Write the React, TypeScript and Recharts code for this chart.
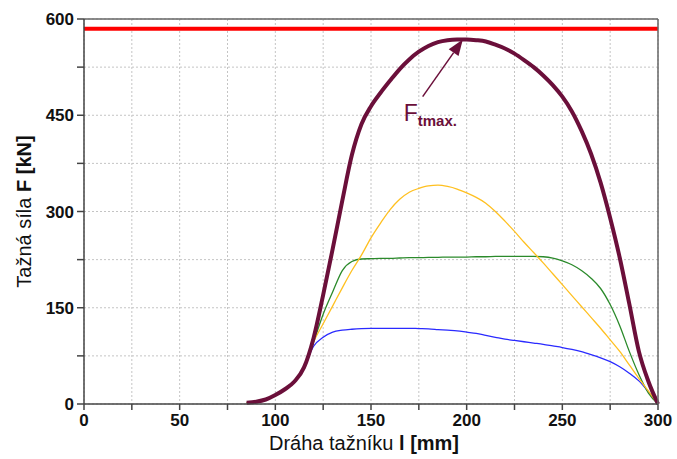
import React from 'react';
import {
  LineChart,
  Line,
  XAxis,
  YAxis,
  CartesianGrid,
  ReferenceLine,
} from 'recharts';

// dráha tažníku [mm]
const xs = [
  85, 90, 95, 100, 105, 110, 115, 120, 125, 130, 135, 140, 145, 150, 155, 160, 165, 170, 175, 180, 185, 190,
  195, 200, 205, 210, 215, 220, 225, 230, 235, 240, 245, 250, 255, 260, 265, 270, 275, 280, 285, 290, 295, 300,
];

// shared start of all curves (85..115)
const start = [2, 3.5, 7, 14, 23, 35, 57];

const purple = start.concat([
  103, 170, 242, 317, 388, 436, 464, 485, 504, 522, 537, 549, 558, 564, 567, 568, 568, 567, 565, 560, 554, 546,
  536, 525, 512, 497, 479, 456, 426, 390, 345, 290, 228, 156, 82, 35, 0,
]);
const yellow = start.concat([
  97, 125, 153, 181, 208, 232, 259, 282, 303, 319, 330, 336, 340, 341, 339, 335, 329, 322, 313, 300, 285, 269,
  252, 236, 220, 203, 186, 169, 152, 135, 118, 100, 82, 61, 40, 20, 0,
]);
const green = start.concat([
  97, 140, 175, 208, 222, 226, 226.5, 227, 227, 227.5, 228, 228, 228.5, 228.5, 229, 229, 229, 229.5, 229.5, 230,
  230, 230, 230, 230, 229.5, 227.5, 223, 217, 208, 196, 180, 155, 122, 82, 46, 17, 0,
]);
const blue = start.concat([
  90, 104, 112, 115, 116.5, 117.5, 118, 118, 118, 118, 118, 117.5, 117, 116, 115, 114, 112, 110, 107, 104, 101,
  99, 97, 95, 93, 90.5, 88, 85, 81.5, 77, 72, 66, 58, 48, 36, 19, 0,
]);

const xTicks = [0, 25, 50, 75, 100, 125, 150, 175, 200, 225, 250, 275, 300];
const yTicks = [0, 75, 150, 225, 300, 375, 450, 525, 600];
const fMaxLimit = 585;
const peak = { x: 198, y: 568 };
const arrowTail = { x: 177, y: 479 };

const data = xs.map((x, i) => ({
  x,
  purple: purple[i],
  yellow: yellow[i],
  green: green[i],
  blue: blue[i],
}));

const font = '"Liberation Sans", Arial, sans-serif';
const tickStyle = { fontFamily: font, fontSize: 17, fontWeight: 'bold', fill: '#111' };

const ArrowShape = (props: any) => {
  const { x1, y1, x2, y2 } = props;
  const ang = Math.atan2(y2 - y1, x2 - x1);
  const len = 16;
  const w = 6;
  const bx = x2 - len * Math.cos(ang);
  const by = y2 - len * Math.sin(ang);
  const px = -Math.sin(ang) * w;
  const py = Math.cos(ang) * w;
  return (
    <g>
      <line x1={x1} y1={y1} x2={bx} y2={by} stroke="#6b0f3a" strokeWidth={1.5} />
      <polygon points={`${x2},${y2} ${bx + px},${by + py} ${bx - px},${by - py}`} fill="#6b0f3a" />
      <text x={x1 - 19} y={y1 + 24} fill="#6b0f3a" fontFamily={font}>
        <tspan fontSize={23}>F</tspan>
        <tspan fontSize={15} fontWeight="bold" dy={5}>tmax.</tspan>
      </text>
    </g>
  );
};

const XTitle = (props: any) => {
  const { viewBox } = props;
  return (
    <text x={viewBox.x + viewBox.width / 2 - 7} y={viewBox.y + 46} textAnchor="middle" fontFamily={font} fontSize={20} fill="#111">
      Dráha tažníku <tspan fontWeight="bold">l [mm]</tspan>
    </text>
  );
};

const YTitle = (props: any) => {
  const { viewBox } = props;
  const cx = 24;
  const cy = viewBox.y + viewBox.height / 2;
  return (
    <text x={cx} y={cy} textAnchor="middle" transform={`rotate(-90 ${cx} ${cy})`} fontFamily={font} fontSize={20} fill="#111" dominantBaseline="central">
      Tažná síla <tspan fontWeight="bold">F [kN]</tspan>
    </text>
  );
};

export default function App() {
  return (
    <div style={{ position: 'absolute', left: 0, top: 0, background: '#fff' }}>
      <LineChart width={677} height={459} data={data} margin={{ top: 19, right: 19, left: 24, bottom: 5 }}>
        <CartesianGrid stroke="#c4c4c4" strokeDasharray="2 2" />
        <XAxis
          dataKey="x"
          type="number"
          domain={[0, 300]}
          ticks={xTicks}
          tickFormatter={(v) => (v % 50 === 0 ? String(v) : '')}
          tick={tickStyle}
          tickSize={6}
          tickMargin={4}
          height={50}
          stroke="#444"
          strokeWidth={1.5}
          label={<XTitle />}
        />
        <XAxis
          xAxisId="top"
          orientation="top"
          dataKey="x"
          type="number"
          domain={[0, 300]}
          ticks={xTicks}
          tick={false}
          mirror
          tickSize={6}
          stroke="#666"
          strokeWidth={1.5}
        />
        <YAxis
          domain={[0, 600]}
          ticks={yTicks}
          tickFormatter={(v) => (v % 150 === 0 ? String(v) : '')}
          tick={tickStyle}
          tickSize={7}
          tickMargin={3}
          width={60}
          stroke="#444"
          strokeWidth={1.5}
          label={<YTitle />}
        />
        <YAxis
          yAxisId="right"
          orientation="right"
          domain={[0, 600]}
          ticks={yTicks}
          tick={false}
          mirror
          tickSize={6}
          stroke="#666"
          strokeWidth={1.5}
        />
        <ReferenceLine y={fMaxLimit} stroke="#ff0000" strokeWidth={4} />
        <Line dataKey="blue" type="monotone" stroke="#2a2aff" strokeWidth={1.3} dot={false} isAnimationActive={false} />
        <Line dataKey="green" type="monotone" stroke="#2b8a2b" strokeWidth={1.3} dot={false} isAnimationActive={false} />
        <Line dataKey="yellow" type="monotone" stroke="#ffc020" strokeWidth={1.3} dot={false} isAnimationActive={false} />
        <Line dataKey="purple" type="monotone" stroke="#6b0f3a" strokeWidth={4} dot={false} isAnimationActive={false} />
        <ReferenceLine
          segment={[
            { x: arrowTail.x, y: arrowTail.y },
            { x: peak.x, y: peak.y },
          ]}
          shape={<ArrowShape />}
        />
      </LineChart>
    </div>
  );
}
